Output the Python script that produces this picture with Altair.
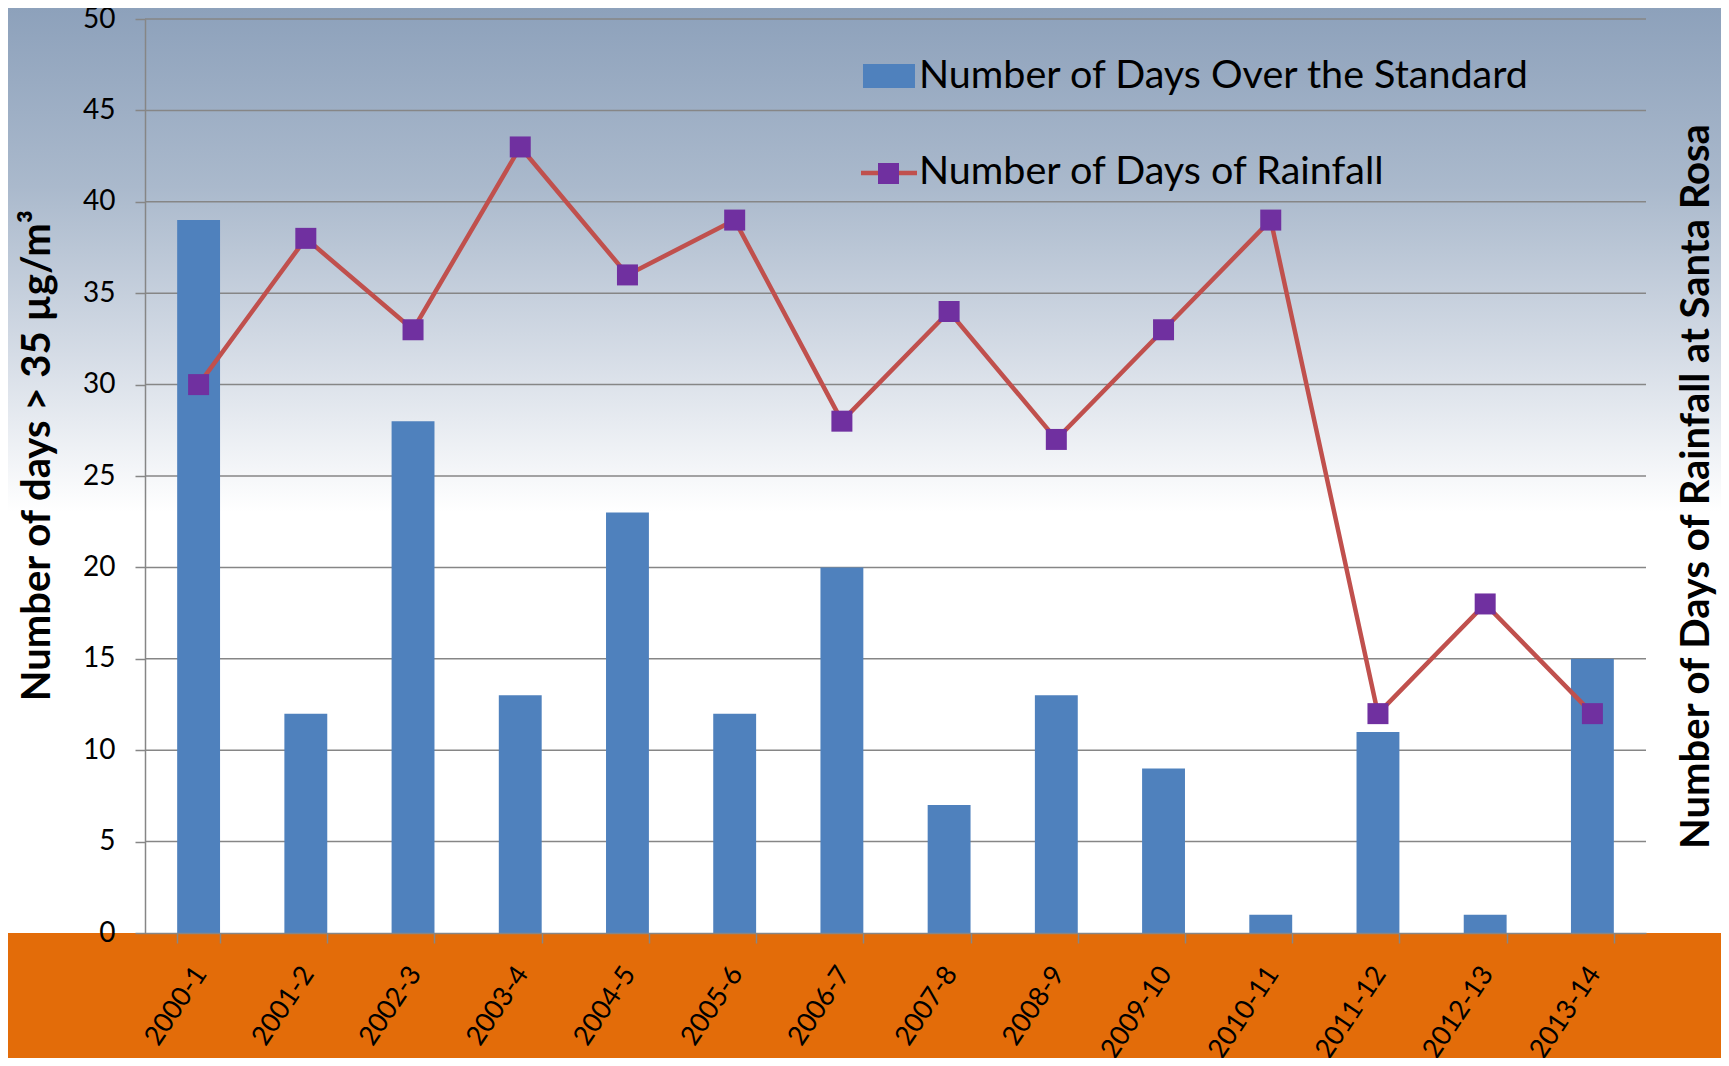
import altair as alt
import pandas as pd

# ---------------- data ----------------
seasons = ["2000-1", "2001-2", "2002-3", "2003-4", "2004-5", "2005-6", "2006-7",
           "2007-8", "2008-9", "2009-10", "2010-11", "2011-12", "2012-13", "2013-14"]
days_over = [39, 12, 28, 13, 23, 12, 20, 7, 13, 9, 1, 11, 1, 15]
rain_days = [30, 38, 33, 43, 36, 39, 28, 34, 27, 33, 39, 12, 18, 12]
y_ticks = [0, 5, 10, 15, 20, 25, 30, 35, 40, 45, 50]
grid_values = [5, 10, 15, 20, 25, 30, 35, 40, 45, 50]
legend_labels = ["Number of Days Over the Standard", "Number of Days of Rainfall"]
left_title = "Number of days > 35 µg/m³"
right_title = "Number of Days of Rainfall at Santa Rosa"

# ---------------- layout ----------------
W, H = 1501, 914
PL, PT, PR, PB = 137, 11, 75, 125
FONT = "Lato"
GRAY = "#868686"
BLUE = "#4F81BD"
RED = "#C0504D"
PURPLE = "#7030A0"
ORANGE = "#E36C09"

df = pd.DataFrame({"season": seasons, "over": days_over, "rain": rain_days})
grid_df = pd.DataFrame({"g": grid_values})
one = pd.DataFrame({"k": [0]})

x_scale = alt.Scale(domain=seasons, paddingInner=0.6, paddingOuter=0.3)
x_axis = alt.Axis(title=None, labelAngle=-56, labelAlign="right", labelBaseline="middle",
                  labelFontSize=27, labelFont=FONT, labelColor="black", labelPadding=26,
                  labelOffset=2, tickBand="extent", tickSize=10, tickColor=GRAY, tickWidth=1.5,
                  domainColor=GRAY, domainWidth=1.5, grid=False, zindex=1, labelOverlap=False,
                  labelLimit=400)

yl_scale = alt.Scale(domain=[0, 50], nice=False, zero=True)
yl_axis = alt.Axis(values=y_ticks, orient="left", title=left_title, titleFont=FONT,
                   titleFontSize=40, titleFontWeight="bold", titleColor="black",
                   titleAngle=270, titleAlign="center", titleBaseline="alphabetic",
                   titleX=-96, titleY=436, titleLimit=900,
                   labelFont=FONT, labelFontSize=28, labelPadding=20, labelColor="black",
                   tickSize=10, tickColor=GRAY, tickWidth=1.5, domainColor=GRAY,
                   domainWidth=1.5, grid=False, zindex=1, labelOverlap=False)

yr_scale = alt.Scale(domain=[0, 50], nice=False, zero=True)
yr_axis = alt.Axis(orient="right", title=right_title, titleFont=FONT, titleFontSize=40,
                   titleFontWeight="bold", titleColor="black", titleAngle=270,
                   titleAlign="center", titleBaseline="alphabetic", titleX=62, titleY=467,
                   titleLimit=1000,
                   labels=False, ticks=False, domain=False, grid=False, zindex=1)

# ---------------- background ----------------
bg = alt.Chart(one).mark_rect(
    fill=alt.Gradient(gradient="linear", x1=0, y1=0, x2=0, y2=1, stops=[
        alt.GradientStop(color="#8DA1BB", offset=0),
        alt.GradientStop(color="#AAB9CC", offset=0.17),
        alt.GradientStop(color="#D5DCE6", offset=0.33),
        alt.GradientStop(color="#FFFFFF", offset=0.48),
        alt.GradientStop(color="#FFFFFF", offset=1),
    ])
).encode(x=alt.value(-PL), x2=alt.value(W + PR), y=alt.value(-PT), y2=alt.value(H + PB))

orange = alt.Chart(one).mark_rect(fill=ORANGE).encode(
    x=alt.value(-PL), x2=alt.value(W + PR), y=alt.value(H), y2=alt.value(H + PB))

# ---------------- left layer ----------------
grid = alt.Chart(grid_df).mark_rule(color=GRAY, strokeWidth=1.5).encode(
    y=alt.Y("g:Q", scale=yl_scale, axis=yl_axis),
    x=alt.value(0), x2=alt.value(W))

bars = alt.Chart(df).mark_bar(color=BLUE).encode(
    x=alt.X("season:N", scale=x_scale, axis=x_axis, sort=seasons),
    y=alt.Y("over:Q", scale=yl_scale, axis=yl_axis))

left = alt.layer(grid, bars)

# ---------------- right layer ----------------
line = alt.Chart(df).mark_line(color=RED, strokeWidth=4.5).encode(
    x=alt.X("season:N", scale=x_scale, axis=x_axis, sort=seasons),
    y=alt.Y("rain:Q", scale=yr_scale, axis=yr_axis))
pts = alt.Chart(df).mark_point(shape="square", filled=True, size=441, color=PURPLE,
                               opacity=1).encode(
    x=alt.X("season:N", scale=x_scale, axis=x_axis, sort=seasons),
    y=alt.Y("rain:Q", scale=yr_scale, axis=yr_axis))
right = alt.layer(line, pts)

# ---------------- legend ----------------
leg_rect = alt.Chart(one).mark_rect(color=BLUE).encode(
    x=alt.value(718), x2=alt.value(770), y=alt.value(45), y2=alt.value(69))
leg_t1 = alt.Chart(one).mark_text(align="left", baseline="alphabetic", font=FONT,
                                  fontSize=39.5, color="black").encode(
    x=alt.value(774), y=alt.value(69), text=alt.value(legend_labels[0]))
leg_line = alt.Chart(one).mark_rule(color=RED, strokeWidth=4.5).encode(
    x=alt.value(716), x2=alt.value(772), y=alt.value(154))
leg_pt = alt.Chart(one).mark_point(shape="square", filled=True, size=441, color=PURPLE,
                                   opacity=1).encode(x=alt.value(743.5), y=alt.value(154.5))
leg_t2 = alt.Chart(one).mark_text(align="left", baseline="alphabetic", font=FONT,
                                  fontSize=39.5, color="black").encode(
    x=alt.value(774), y=alt.value(165), text=alt.value(legend_labels[1]))

chart = alt.layer(bg, orange, left, right, leg_rect, leg_t1, leg_line, leg_pt, leg_t2
                  ).resolve_scale(y="independent").properties(
    width=W, height=H,
    autosize=alt.AutoSizeParams(type="none"),
    padding={"left": PL, "top": PT, "right": PR, "bottom": PB},
).configure_view(strokeWidth=0).configure(font=FONT)

chart.save("out.html", embed_options={"renderer": "svg", "actions": False})
